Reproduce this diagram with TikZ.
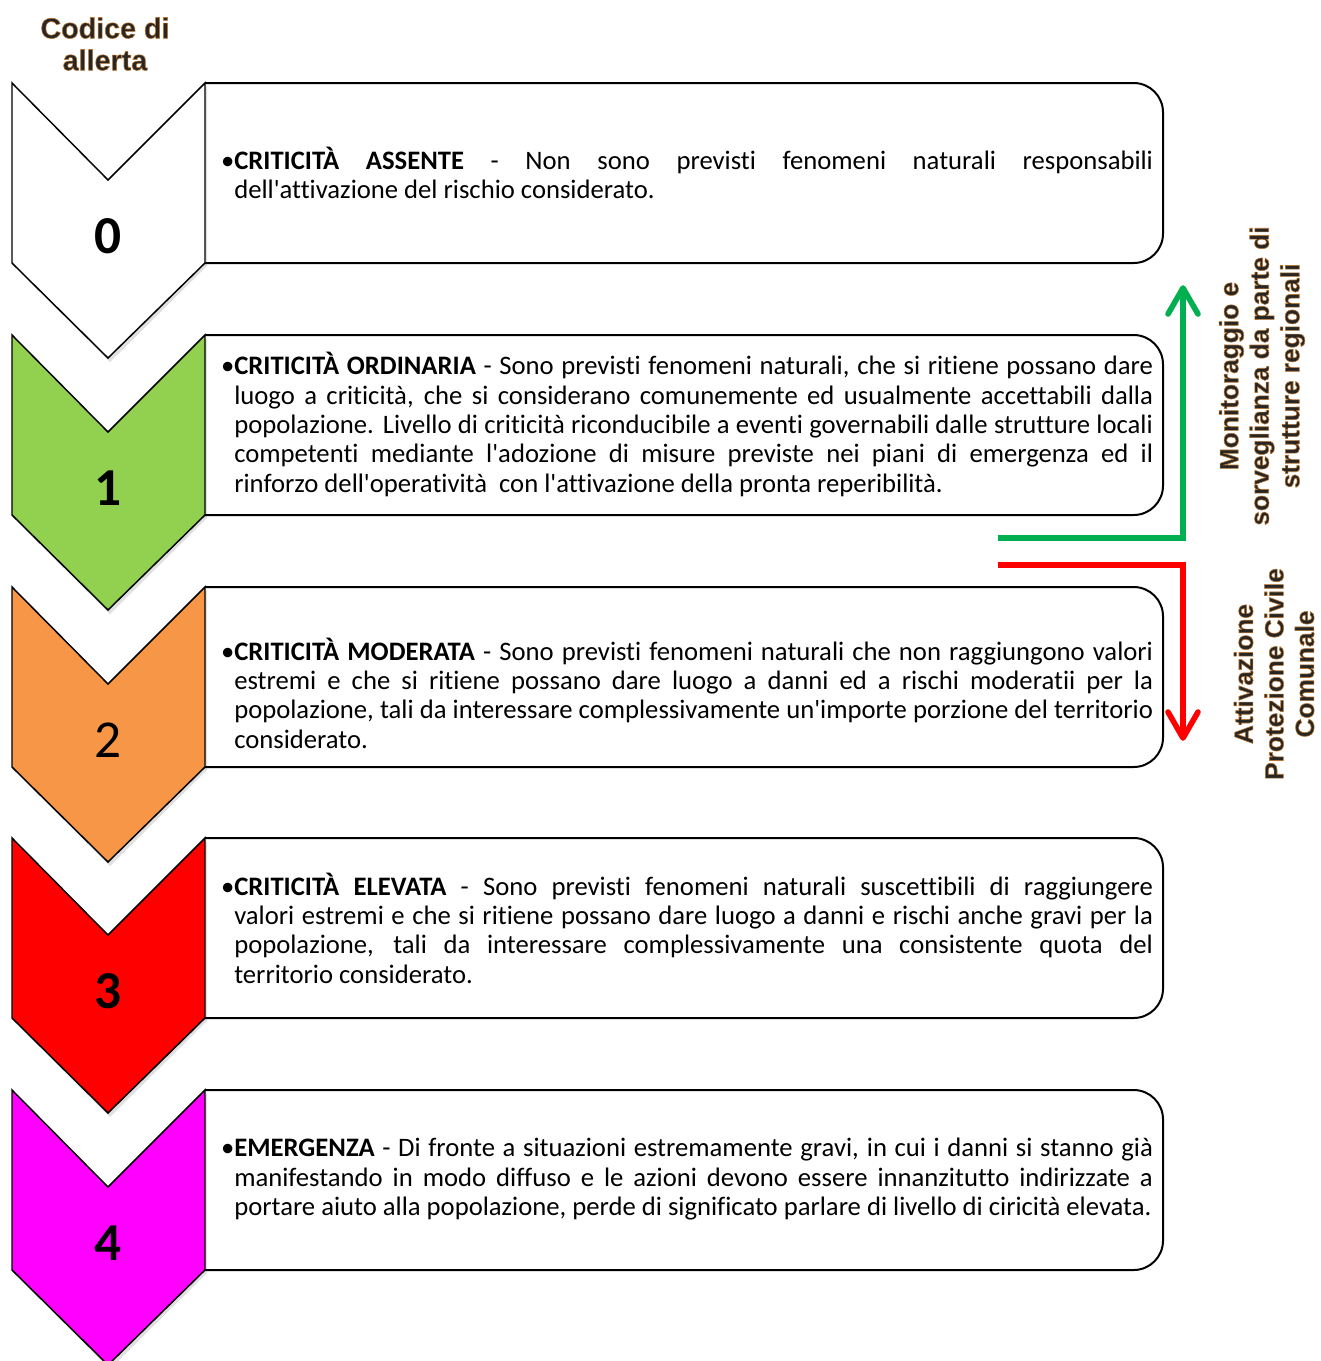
\documentclass[tikz,border=0pt]{standalone}
\usepackage{fontspec}
\setmainfont{Carlito}[Ligatures={TeXOff,NoCommon}]
\newfontfamily\lblfont{Liberation Sans}
\usetikzlibrary{calc}
\definecolor{cgreen}{HTML}{92D050}
\definecolor{corange}{HTML}{F79646}
\definecolor{cred}{HTML}{FF0000}
\definecolor{cmag}{HTML}{FF00FF}
\definecolor{agreen}{HTML}{00B050}
\newcommand{\bul}{\noindent\setbox0\hbox{•}\hangindent=\wd0 \hangafter=1 •}
\newcommand{\glowon}{\special{pdf:literal direct 0.72 0.45 0.18 RG 0.45 w 1 j 2 Tr}}
\newcommand{\glowoff}{\special{pdf:literal direct 0 Tr 0 0 0 RG}}
\tikzset{
  chevst/.style={draw=black, line width=1.1pt, line join=miter},
  chevshadow/.style={fill=black, opacity=0.12},
  boxst/.style={draw=black, line width=1.5pt},
  txt/.style={text width=699pt, inner sep=0pt, align=justify,
    font=\fontsize{20}{22}\selectfont},
  digit/.style={inner sep=0pt, font=\fontsize{40}{44}\selectfont},
  lbl/.style={rotate=90, align=center, inner sep=0pt, text=black!85,
    font=\lblfont\bfseries\fontsize{19.7}{22.9}\selectfont},
  ttl/.style={align=center, inner sep=0pt, text=black!85,
    font=\lblfont\bfseries\fontsize{21.5}{24}\selectfont},
  garr/.style={draw=agreen, line width=4.2pt},
  rarr/.style={draw=cred, line width=4.2pt},
  wing/.style={line cap=round, line join=round},
}
\newcommand{\chev}[4]{%
  \fill[chevshadow] (14,#2+3) -- (110,#2+100) -- (207,#2+3) -- (207,#2+183) -- (110,#2+279) -- (14,#2+183) -- cycle;
  \draw[chevst, fill=#3] (12,#2) -- (108,#2+97) -- (205,#2) -- (205,#2+180) -- (108,#2+275) -- (12,#2+180) -- cycle;
  \node[digit] (#1) at (108,#2+153) {#4};
}
\newcommand{\tbox}[2]{%
  \coordinate (#1a) at (205,#2);
  \coordinate (#1b) at (1163,#2);
  \coordinate (#1c) at (1163,#2+180);
  \coordinate (#1d) at (205,#2+180);
  \draw[boxst] (#1a) [rounded corners=22pt] -- (#1b) -- (#1c) -- (#1d);
}
\begin{document}
\begin{tikzpicture}[x=0.75pt, y=-0.75pt]
\useasboundingbox (0,0) rectangle (1321,1361);

% boxes
\tbox{b0}{83}
\tbox{b1}{335}
\tbox{b2}{587}
\tbox{b3}{838}
\tbox{b4}{1090}

% chevrons
\chev{c0}{83}{white}{\bfseries 0}
\chev{c1}{335}{cgreen}{\bfseries 1}
\chev{c2}{587}{corange}{2}
\chev{c3}{838}{cred}{\bfseries 3}
\chev{c4}{1090}{cmag}{\bfseries 4}

% texts
\node[txt] (t0) at (687,173) {\bul\textbf{CRITICITÀ ASSENTE} - Non sono previsti fenomeni naturali responsabili\linebreak
dell'attivazione del rischio considerato.\par};

\node[txt] (t1) at (687,424.5) {\bul\textbf{CRITICITÀ ORDINARIA} - Sono previsti fenomeni naturali, che si ritiene possano dare\linebreak
luogo a criticità, che si considerano comunemente ed usualmente accettabili dalla\linebreak
popolazione. Livello di criticità riconducibile a eventi governabili dalle strutture locali\linebreak
competenti mediante l'adozione di misure previste nei piani di emergenza ed il\linebreak
rinforzo dell'operatività~ con l'attivazione della pronta reperibilità.\par};

\node[txt] (t2) at (687,693) {\bul\textbf{CRITICITÀ MODERATA} - Sono previsti fenomeni naturali che non raggiungono valori\linebreak
estremi e che si ritiene possano dare luogo a danni ed a rischi moderatii per la\linebreak
popolazione, tali da interessare complessivamente un'importe porzione del territorio\linebreak
considerato.\par};

\node[txt] (t3) at (687,928) {\bul\textbf{CRITICITÀ ELEVATA} - Sono previsti fenomeni naturali suscettibili di raggiungere\linebreak
valori estremi e che si ritiene possano dare luogo a danni e rischi anche gravi per la\linebreak
popolazione, tali da interessare complessivamente una consistente quota del\linebreak
territorio considerato.\par};

\node[txt] (t4) at (687,1179.3) {\bul\textbf{EMERGENZA} - Di fronte a situazioni estremamente gravi, in cui i danni si stanno già\linebreak
manifestando in modo diffuso e le azioni devono essere innanzitutto indirizzate a\linebreak
portare aiuto alla popolazione, perde di significato parlare di livello di ciricità elevata.\par};

% title
\node[ttl] (title) at (105,44) {\glowon Codice di\\allerta\glowoff};

% arrows
\coordinate (gs) at (998,538);
\coordinate (gc) at (1183,538);
\coordinate (gend) at (1183,292);
\coordinate (gt) at (1183,288);
\coordinate (gw1) at (1168,314);
\coordinate (gw2) at (1198,314);
\draw[garr] (gs) -- (gc) -- (gend);
\draw[garr, wing] (gw1) -- (gt) -- (gw2);

\coordinate (rs) at (998,565);
\coordinate (rc) at (1183,565);
\coordinate (rend) at (1183,734);
\coordinate (rt) at (1183,738);
\coordinate (rw1) at (1168,712);
\coordinate (rw2) at (1198,712);
\draw[rarr] (rs) -- (rc) -- (rend);
\draw[rarr, wing] (rw1) -- (rt) -- (rw2);

% side labels
\node[lbl] (lmon) at (1262,376) {\glowon Monitoraggio e\\sorveglianza da parte di\\strutture regionali\glowoff};
\node[lbl] (latt) at (1274,674) {\glowon Attivazione\\Protezione Civile\\Comunale\glowoff};
\end{tikzpicture}
\end{document}
